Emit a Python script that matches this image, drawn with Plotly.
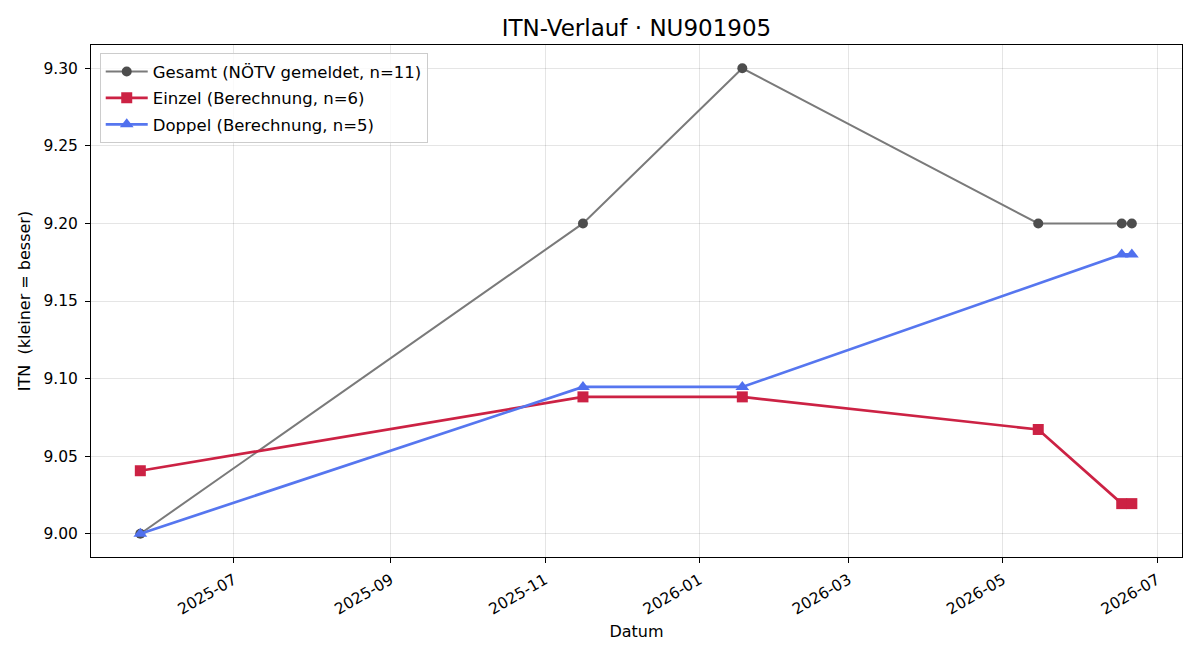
import plotly.graph_objects as go

gesamt_dates = ["2025-05-25", "2025-11-16", "2026-01-18", "2026-05-15", "2026-06-17", "2026-06-21"]
gesamt_vals = [9.00, 9.20, 9.30, 9.20, 9.20, 9.20]

einzel_dates = ["2025-05-25", "2025-11-16", "2026-01-18", "2026-05-15", "2026-06-17", "2026-06-21"]
einzel_vals = [9.0406, 9.0882, 9.0882, 9.0672, 9.0194, 9.0194]

doppel_dates = ["2025-05-25", "2025-11-16", "2026-01-18", "2026-06-17", "2026-06-21"]
doppel_vals = [9.00, 9.0946, 9.0946, 9.18, 9.18]

x_ticks = ["2025-07-01", "2025-09-01", "2025-11-01", "2026-01-01", "2026-03-01", "2026-05-01", "2026-07-01"]
x_tick_labels = ["2025-07", "2025-09", "2025-11", "2026-01", "2026-03", "2026-05", "2026-07"]
y_ticks = [9.00, 9.05, 9.10, 9.15, 9.20, 9.25, 9.30]

FONT = "DejaVu Sans"

fig = go.Figure()
fig.add_trace(go.Scatter(
    x=gesamt_dates, y=gesamt_vals, mode="lines+markers",
    name="Gesamt (NÖTV gemeldet, n=11)", legendgroup="g",
    line=dict(color="#7a7a7a", width=2),
    marker=dict(symbol="circle", size=10, color="#4d4d4d"),
))
fig.add_trace(go.Scatter(
    x=einzel_dates, y=einzel_vals, mode="lines+markers",
    name="Einzel (Berechnung, n=6)", legendgroup="e",
    line=dict(color="#cc2244", width=2.7),
    marker=dict(symbol="square", size=11, color="#cc2244"),
))
fig.add_trace(go.Scatter(
    x=doppel_dates, y=doppel_vals, mode="lines+markers",
    name="Doppel (Berechnung, n=5)", legendgroup="d",
    line=dict(color="#5676ef", width=2.7),
    marker=dict(symbol="triangle-up", size=12, color="#5070ee"),
))

fig.update_layout(
    width=1200, height=660,
    margin=dict(l=91, r=18, t=45, b=103),
    paper_bgcolor="white", plot_bgcolor="white",
    font=dict(family=FONT, size=15, color="black"),
    title=dict(text="ITN-Verlauf · NU901905", x=0.5, xref="paper", xanchor="center",
               y=1 - 28 / 660, yanchor="middle", font=dict(size=23)),
    legend=dict(x=0.008, y=0.984, xanchor="left", yanchor="top",
                bgcolor="rgba(255,255,255,0.8)", bordercolor="#cccccc", borderwidth=1,
                font=dict(size=16.5), tracegroupgap=2, itemwidth=42),
    showlegend=True,
)
fig.update_xaxes(
    type="date",
    range=["2025-05-05 12:00", "2026-07-10 20:00"],
    tickvals=x_ticks, ticktext=x_tick_labels, tickangle=-30,
    showgrid=True, gridcolor="rgba(0,0,0,0.1)", gridwidth=1,
    showline=True, linecolor="black", linewidth=1, mirror=True,
    ticks="outside", ticklen=5, tickcolor="black",
    tickfont=dict(size=15.5), ticklabelstandoff=2,
    title=dict(text="Datum", font=dict(size=16), standoff=8),
    zeroline=False,
)
fig.update_yaxes(
    range=[8.985, 9.315],
    tickvals=y_ticks, ticktext=[f"{v:.2f}" for v in y_ticks],
    showgrid=True, gridcolor="rgba(0,0,0,0.1)", gridwidth=1,
    showline=True, linecolor="black", linewidth=1, mirror=True,
    ticks="outside", ticklen=5, tickcolor="black",
    tickfont=dict(size=15.5), ticklabelstandoff=4,
    title=dict(text="ITN \u00a0(kleiner = besser)", font=dict(size=16), standoff=8),
    zeroline=False,
)

fig.write_html("out.html")
